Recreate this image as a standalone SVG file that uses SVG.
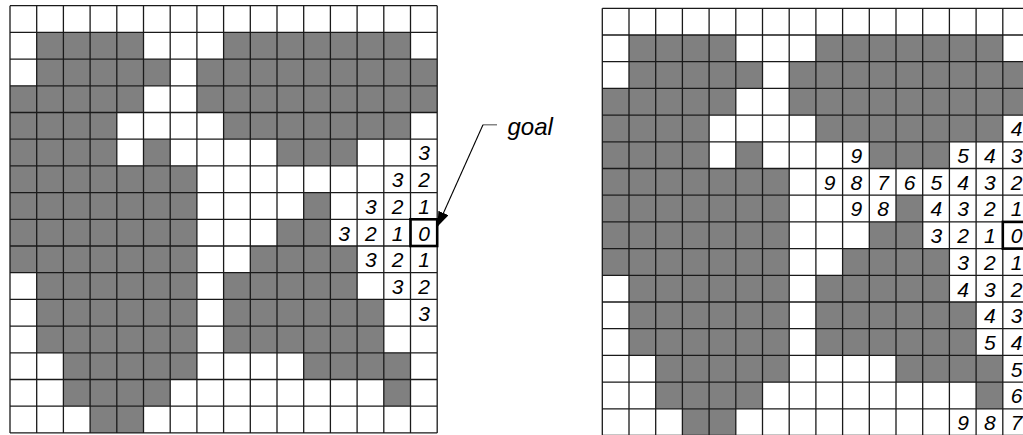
<svg xmlns="http://www.w3.org/2000/svg" xmlns:xlink="http://www.w3.org/1999/xlink" width="1023" height="435" viewBox="0 0 1023 435">
<style>
.obs{fill:#808080;stroke:none}
.grid{fill:none;stroke:#1a1a1a;stroke-width:1.3}
.goalbox{fill:none;stroke:#000;stroke-width:2.6}
.d{font-family:"Liberation Sans",Arial,sans-serif;font-style:italic;font-size:21px;fill:#000;text-anchor:middle}
.lbl{font-family:"Liberation Sans",Arial,sans-serif;font-style:italic;font-size:24px;fill:#000}
</style>
<defs>
<marker id="ah" viewBox="0 0 15 11" refX="15" refY="5.5" markerWidth="15" markerHeight="11" markerUnits="userSpaceOnUse" orient="auto">
<path d="M0,0 L15,5.5 L0,11 Z" fill="#000"/>
</marker>
<g id="map">
<rect x="0" y="0" width="427.2" height="427.2" fill="#fff"/>
<g class="obs">
<rect x="26.7" y="26.7" width="106.8" height="26.7"/><rect x="213.6" y="26.7" width="186.9" height="26.7"/>
<rect x="26.7" y="53.4" width="133.5" height="26.7"/><rect x="186.9" y="53.4" width="240.3" height="26.7"/>
<rect x="0" y="80.1" width="133.5" height="26.7"/><rect x="186.9" y="80.1" width="240.3" height="26.7"/>
<rect x="0" y="106.8" width="106.8" height="26.7"/><rect x="213.6" y="106.8" width="186.9" height="26.7"/>
<rect x="0" y="133.5" width="106.8" height="26.7"/><rect x="133.5" y="133.5" width="26.7" height="26.7"/><rect x="267" y="133.5" width="80.1" height="26.7"/>
<rect x="0" y="160.2" width="186.9" height="26.7"/>
<rect x="0" y="186.9" width="186.9" height="26.7"/><rect x="293.7" y="186.9" width="26.7" height="26.7"/>
<rect x="0" y="213.6" width="186.9" height="26.7"/><rect x="267" y="213.6" width="53.4" height="26.7"/>
<rect x="0" y="240.3" width="186.9" height="26.7"/><rect x="240.3" y="240.3" width="106.8" height="26.7"/>
<rect x="26.7" y="267" width="160.2" height="26.7"/><rect x="213.6" y="267" width="133.5" height="26.7"/>
<rect x="26.7" y="293.7" width="160.2" height="26.7"/><rect x="213.6" y="293.7" width="160.2" height="26.7"/>
<rect x="26.7" y="320.4" width="160.2" height="26.7"/><rect x="213.6" y="320.4" width="160.2" height="26.7"/>
<rect x="53.4" y="347.1" width="133.5" height="26.7"/><rect x="293.7" y="347.1" width="106.8" height="26.7"/>
<rect x="53.4" y="373.8" width="106.8" height="26.7"/><rect x="373.8" y="373.8" width="26.7" height="26.7"/>
<rect x="80.1" y="400.5" width="53.4" height="26.7"/>
</g>
<path class="grid" d="M0,0V427.2M26.7,0V427.2M53.4,0V427.2M80.1,0V427.2M106.8,0V427.2M133.5,0V427.2M160.2,0V427.2M186.9,0V427.2M213.6,0V427.2M240.3,0V427.2M267,0V427.2M293.7,0V427.2M320.4,0V427.2M347.1,0V427.2M373.8,0V427.2M400.5,0V427.2M427.2,0V427.2M0,0H427.2M0,26.7H427.2M0,53.4H427.2M0,80.1H427.2M0,106.8H427.2M0,133.5H427.2M0,160.2H427.2M0,186.9H427.2M0,213.6H427.2M0,240.3H427.2M0,267H427.2M0,293.7H427.2M0,320.4H427.2M0,347.1H427.2M0,373.8H427.2M0,400.5H427.2M0,427.2H427.2"/>
<rect class="goalbox" x="400.5" y="213.6" width="26.7" height="26.7"/>
</g>
</defs>

<g id="left-grid" transform="translate(10,5.7)">
<use xlink:href="#map"/>
<g id="left-values" class="d">
<text x="414.2" y="154.8">3</text>
<text x="387.5" y="181.5">3</text><text x="414.2" y="181.5">2</text>
<text x="360.8" y="208.2">3</text><text x="387.5" y="208.2">2</text><text x="414.2" y="208.2">1</text>
<text x="334.1" y="234.9">3</text><text x="360.8" y="234.9">2</text><text x="387.5" y="234.9">1</text><text x="414.2" y="234.9">0</text>
<text x="360.8" y="261.6">3</text><text x="387.5" y="261.6">2</text><text x="414.2" y="261.6">1</text>
<text x="387.5" y="288.3">3</text><text x="414.2" y="288.3">2</text>
<text x="414.2" y="315">3</text>
</g>
</g>

<g id="right-grid" transform="translate(602.3,8.3)">
<use xlink:href="#map"/>
<g id="right-values" class="d">
<text x="414.2" y="128.1">4</text>
<text x="254" y="154.8">9</text><text x="360.8" y="154.8">5</text><text x="387.5" y="154.8">4</text><text x="414.2" y="154.8">3</text>
<text x="227.3" y="181.5">9</text><text x="254" y="181.5">8</text><text x="280.7" y="181.5">7</text><text x="307.4" y="181.5">6</text><text x="334.1" y="181.5">5</text><text x="360.8" y="181.5">4</text><text x="387.5" y="181.5">3</text><text x="414.2" y="181.5">2</text>
<text x="254" y="208.2">9</text><text x="280.7" y="208.2">8</text><text x="334.1" y="208.2">4</text><text x="360.8" y="208.2">3</text><text x="387.5" y="208.2">2</text><text x="414.2" y="208.2">1</text>
<text x="334.1" y="234.9">3</text><text x="360.8" y="234.9">2</text><text x="387.5" y="234.9">1</text><text x="414.2" y="234.9">0</text>
<text x="360.8" y="261.6">3</text><text x="387.5" y="261.6">2</text><text x="414.2" y="261.6">1</text>
<text x="360.8" y="288.3">4</text><text x="387.5" y="288.3">3</text><text x="414.2" y="288.3">2</text>
<text x="387.5" y="315">4</text><text x="414.2" y="315">3</text>
<text x="387.5" y="341.7">5</text><text x="414.2" y="341.7">4</text>
<text x="414.2" y="368.4">5</text>
<text x="414.2" y="395.1">6</text>
<text x="360.8" y="421.8">9</text><text x="387.5" y="421.8">8</text><text x="414.2" y="421.8">7</text>
</g>
</g>

<g id="goal-label">
<text class="lbl" x="507.5" y="135">goal</text>
</g>
<g id="connectors">
<line x1="483" y1="124.8" x2="497" y2="124.8" stroke="#666" stroke-width="1.2"/>
<line x1="483" y1="124.8" x2="437.3" y2="226.7" stroke="#000" stroke-width="1.1" marker-end="url(#ah)"/>
</g>
</svg>
